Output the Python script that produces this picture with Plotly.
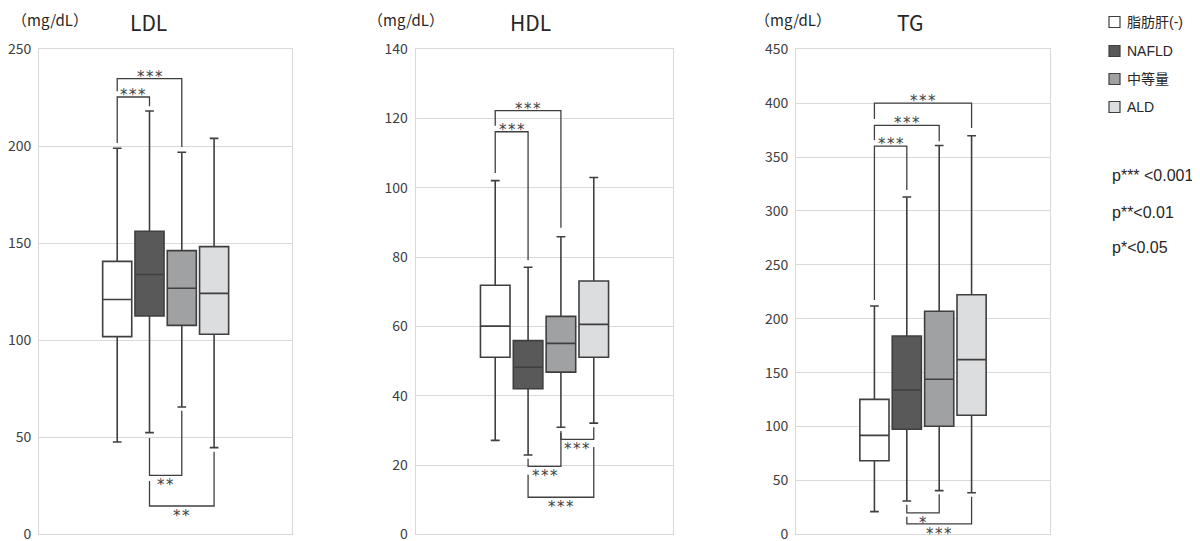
import plotly.graph_objects as go

# ---------------- data ----------------
series_names = ["脂肪肝(-)", "NAFLD", "中等量", "ALD"]
panel_titles = ["LDL", "HDL", "TG"]
unit_label = "（mg/dL）"

ldl_lower = [47.6, 52.4, 65.6, 44.7]
ldl_q1 = [101.9, 112.5, 107.7, 103.1]
ldl_median = [121.0, 133.9, 126.8, 124.2]
ldl_q3 = [140.7, 156.2, 146.2, 148.3]
ldl_upper = [199.0, 218.2, 196.9, 204.1]

hdl_lower = [27.1, 22.9, 30.9, 32.1]
hdl_q1 = [51.1, 42.0, 46.8, 51.1]
hdl_median = [60.1, 48.2, 55.1, 60.6]
hdl_q3 = [71.9, 55.9, 62.9, 73.1]
hdl_upper = [102.1, 77.1, 85.9, 103.0]

tg_lower = [21.0, 30.9, 40.5, 38.6]
tg_q1 = [68.3, 97.4, 100.2, 110.4]
tg_median = [91.8, 133.9, 143.8, 162.1]
tg_q3 = [125.2, 184.0, 207.0, 222.3]
tg_upper = [211.8, 312.9, 360.8, 369.8]

y_max = [250, 140, 450]
y_step = [50, 20, 50]

# significance brackets: from box, to box, bar level, left leg end, right leg end, label
ldl_br_from = [0, 0, 1, 1]
ldl_br_to = [2, 1, 2, 3]
ldl_br_level = [234.9, 225.4, 30.4, 14.6]
ldl_br_left_end = [228.4, 201.7, 49.6, 27.5]
ldl_br_right_end = [199.6, 220.6, 63.7, 42.6]
ldl_br_label = ["***", "***", "**", "**"]

hdl_br_from = [0, 0, 2, 1, 1]
hdl_br_to = [2, 1, 3, 2, 3]
hdl_br_level = [122.3, 116.2, 27.4, 19.6, 10.7]
hdl_br_left_end = [117.9, 104.3, 29.3, 21.8, 17.2]
hdl_br_right_end = [88.5, 79.1, 30.9, 29.8, 25.2]
hdl_br_label = ["***", "***", "***", "***", "***"]

tg_br_from = [0, 0, 0, 1, 1]
tg_br_to = [3, 2, 1, 2, 3]
tg_br_level = [400.1, 379.4, 360.2, 19.8, 9.6]
tg_br_left_end = [385.3, 365.5, 217.5, 27.5, 16.3]
tg_br_right_end = [376.9, 364.6, 319.4, 37.1, 34.9]
tg_br_label = ["***", "***", "***", "*", "***"]

p_notes = ["p*** <0.001", "p**<0.01", "p*<0.05"]

# ---------------- style ----------------
fills = ["#ffffff", "#595959", "#a0a1a3", "#dcdddf"]
outline = "#3f3f3f"
grid = "#d9d9d9"
txt = "#404040"
FONT = "Noto Sans CJK JP"
W, H = 1200, 541
OFF = 8  # page body margin
BOXGAP, BOXGROUPGAP = 0.49, 0.10


def px_x(v):
    return (v - OFF) / W


def px_y(v):
    return 1 - (v - OFF) / H


x_domains = [[px_x(39), px_x(292.3)], [px_x(415.7), px_x(673.3)], [px_x(796), px_x(1050)]]
y_domain = [px_y(534.3), px_y(49.3)]
title_x = [148, 530, 909.5]
unit_left_x = [9.5, 366, 753]

stats = [
    (ldl_lower, ldl_q1, ldl_median, ldl_q3, ldl_upper),
    (hdl_lower, hdl_q1, hdl_median, hdl_q3, hdl_upper),
    (tg_lower, tg_q1, tg_median, tg_q3, tg_upper),
]
brackets = [
    (ldl_br_from, ldl_br_to, ldl_br_level, ldl_br_left_end, ldl_br_right_end, ldl_br_label),
    (hdl_br_from, hdl_br_to, hdl_br_level, hdl_br_left_end, hdl_br_right_end, hdl_br_label),
    (tg_br_from, tg_br_to, tg_br_level, tg_br_left_end, tg_br_right_end, tg_br_label),
]

fig = go.Figure()
n = len(series_names)
for p in range(3):
    lo, q1, med, q3, up = stats[p]
    xa = "x" if p == 0 else f"x{p+1}"
    ya = "y" if p == 0 else f"y{p+1}"
    for i in range(n):
        fig.add_trace(go.Box(
            x=[0], lowerfence=[lo[i]], q1=[q1[i]], median=[med[i]], q3=[q3[i]],
            upperfence=[up[i]], name=series_names[i], legendgroup=series_names[i],
            offsetgroup=str(i), showlegend=(p == 0), fillcolor=fills[i],
            line=dict(color=outline, width=1.6), whiskerwidth=0.3,
            boxpoints=False, xaxis=xa, yaxis=ya, hoverinfo="skip",
        ))

# centres of grouped boxes in axis units (same rule plotly uses for boxmode='group')
centres = [(-0.5 + (i + 0.5) / n) * (1 - BOXGAP) for i in range(n)]

shapes = []
annotations = []
for p in range(3):
    xa = "x" if p == 0 else f"x{p+1}"
    ya = "y" if p == 0 else f"y{p+1}"
    bf, bt, lvl, le, re, lab = brackets[p]
    for k in range(len(bf)):
        xl, xr = centres[bf[k]], centres[bt[k]]
        shapes.append(dict(
            type="path", xref=xa, yref=ya,
            path=f"M {xl},{le[k]} L {xl},{lvl[k]} L {xr},{lvl[k]} L {xr},{re[k]}",
            line=dict(color=outline, width=1.3),
        ))
        above = lvl[k] > max(le[k], re[k])
        annotations.append(dict(
            xref=xa, yref=ya, x=(xl + xr) / 2, y=lvl[k],
            text="\u200a".join(lab[k]), showarrow=False,
            yanchor="middle", yshift=2 if above else -10,
            font=dict(family="DejaVu Sans", size=15, color=txt),
        ))
    annotations.append(dict(
        xref="paper", yref="paper", x=px_x(title_x[p]), y=px_y(22),
        text=panel_titles[p], showarrow=False, xanchor="center", yanchor="middle",
        font=dict(family=FONT, size=21, color="#262626"),
    ))
    annotations.append(dict(
        xref="paper", yref="paper", x=px_x(unit_left_x[p]), y=px_y(19),
        text=unit_label, showarrow=False, xanchor="left", yanchor="middle",
        font=dict(family=FONT, size=15, color="#262626"),
    ))

# manual legend
legend_rows = [22, 51, 79, 107]
for i in range(n):
    yc = legend_rows[i]
    shapes.append(dict(
        type="rect", xref="paper", yref="paper",
        x0=px_x(1109), x1=px_x(1120), y0=px_y(yc + 5.5), y1=px_y(yc - 5.5),
        fillcolor=fills[i], line=dict(color=outline, width=1.2),
    ))
    annotations.append(dict(
        xref="paper", yref="paper", x=px_x(1125), y=px_y(yc),
        text=series_names[i], showarrow=False, xanchor="left", yanchor="middle",
        font=dict(family="Liberation Sans, " + FONT, size=14, color="#262626"),
    ))

note_rows = [176, 212, 247]
for j, t in enumerate(p_notes):
    annotations.append(dict(
        xref="paper", yref="paper", x=px_x(1110), y=px_y(note_rows[j]),
        text=t, showarrow=False, xanchor="left", yanchor="middle",
        font=dict(family="Liberation Sans", size=16, color="#262626"),
    ))

layout = dict(
    width=W, height=H, margin=dict(l=0, r=0, t=0, b=0, autoexpand=False),
    paper_bgcolor="white", plot_bgcolor="white", showlegend=False,
    boxmode="group", boxgap=BOXGAP, boxgroupgap=BOXGROUPGAP,
    shapes=shapes, annotations=annotations,
)
for p in range(3):
    xk = "xaxis" if p == 0 else f"xaxis{p+1}"
    yk = "yaxis" if p == 0 else f"yaxis{p+1}"
    ya_anchor = "y" if p == 0 else f"y{p+1}"
    xa_anchor = "x" if p == 0 else f"x{p+1}"
    layout[xk] = dict(
        domain=x_domains[p], range=[-0.5, 0.5], anchor=ya_anchor, automargin=False,
        showticklabels=False, showgrid=False, zeroline=False,
        showline=True, mirror=True, linecolor=grid, linewidth=1, ticks="",
    )
    layout[yk] = dict(
        domain=y_domain, range=[0, y_max[p]], dtick=y_step[p], anchor=xa_anchor,
        automargin=False,
        showgrid=True, gridcolor=grid, gridwidth=1, zeroline=False,
        showline=True, mirror=True, linecolor=grid, linewidth=1, ticks="",
        ticklabelstandoff=4,
        tickfont=dict(family=FONT, size=14, color=txt),
    )
fig.update_layout(**layout)
fig.write_html("out.html")
